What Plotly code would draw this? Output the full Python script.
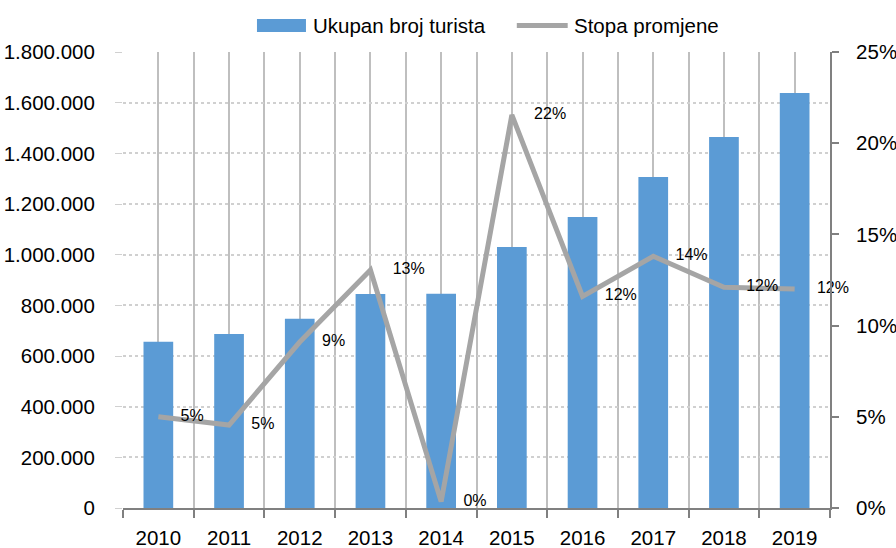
import plotly.graph_objects as go

years = [2010, 2011, 2012, 2013, 2014, 2015, 2016, 2017, 2018, 2019]
tourists = [656000, 687000, 747000, 845000, 846000, 1030000, 1149000, 1307000, 1464000, 1638000]
change_rate = [0.050, 0.0455, 0.091, 0.1305, 0.0035, 0.2155, 0.116, 0.138, 0.121, 0.120]
left_ticks = list(range(0, 1800001, 200000))
right_ticks = [0, 0.05, 0.10, 0.15, 0.20, 0.25]
bar_name = "Ukupan broj turista"
line_name = "Stopa promjene"

BAR_COLOR = "#5b9bd5"
LINE_COLOR = "#a5a5a5"
FONT = "Liberation Sans, Arial, sans-serif"

fig = go.Figure()
fig.add_trace(go.Bar(
    x=years, y=tourists, name=bar_name, width=0.42,
    marker=dict(color=BAR_COLOR, line=dict(width=0)),
    showlegend=False, yaxis="y",
))
fig.add_trace(go.Scatter(
    x=years, y=change_rate, name=line_name, yaxis="y2",
    mode="lines+markers+text",
    line=dict(color=LINE_COLOR, width=5),
    marker=dict(size=34, color="rgba(0,0,0,0)"),
    texttemplate="%{y:.0%}", textposition="middle right",
    textfont=dict(size=16, color="#000000", family=FONT),
    cliponaxis=False,
    showlegend=False,
))

half = [y - 0.5 for y in years] + [years[-1] + 0.5]

fig.update_layout(
    width=896, height=548,
    margin=dict(l=123, r=66, t=52, b=40, autoexpand=False),
    paper_bgcolor="white", plot_bgcolor="white",
    separators=",.",
    font=dict(family=FONT, size=20.5, color="#000000"),
    xaxis=dict(
        range=[years[0] - 0.5, years[-1] + 0.5],
        tickvals=years, ticktext=[str(y) for y in years],
        ticks="", showgrid=True, gridcolor="#bfbfbf", gridwidth=1.5,
        showline=True, linecolor="#808080", linewidth=2,
        zeroline=False, ticklabelstandoff=10, automargin=False,
        minor=dict(tickvals=half, ticks="outside", ticklen=8, tickcolor="#808080",
                   tickwidth=2, showgrid=True, gridcolor="#bfbfbf", gridwidth=1.5),
    ),
    yaxis=dict(
        range=[0, 1800000], tickvals=left_ticks, tickformat=",d",
        showgrid=True, gridcolor="#d0d0d0", griddash="dot", gridwidth=1.5,
        showline=False, zeroline=False, automargin=False,
        ticks="outside", ticklen=7, tickcolor="#d0d0d0",
        ticklabelstandoff=16,
    ),
    yaxis2=dict(
        overlaying="y", side="right", range=[0, 0.25], tickvals=right_ticks,
        tickformat=".0%", showgrid=False, zeroline=False, automargin=False,
        showline=True, linecolor="#808080", linewidth=2,
        ticks="outside", ticklen=7, tickcolor="#808080", tickwidth=2,
        ticklabelstandoff=13,
    ),
    shapes=[
        dict(type="rect", xref="paper", yref="paper",
             x0=0.1895, x1=0.2588, y0=1.0439, y1=1.0724,
             fillcolor=BAR_COLOR, line=dict(width=0)),
        dict(type="line", xref="paper", yref="paper",
             x0=0.557, x1=0.629, y0=1.058, y1=1.058,
             line=dict(color=LINE_COLOR, width=5)),
    ],
    annotations=[
        dict(text=bar_name, xref="paper", yref="paper", x=0.266, y=1.058,
             xanchor="left", yanchor="middle", showarrow=False,
             font=dict(size=20.5, family=FONT)),
        dict(text=line_name, xref="paper", yref="paper", x=0.6351, y=1.058,
             xanchor="left", yanchor="middle", showarrow=False,
             font=dict(size=20.5, family=FONT)),
    ],
)

fig.write_html("out.html", config={"displayModeBar": False},
               post_script="document.body.style.margin='0';")
